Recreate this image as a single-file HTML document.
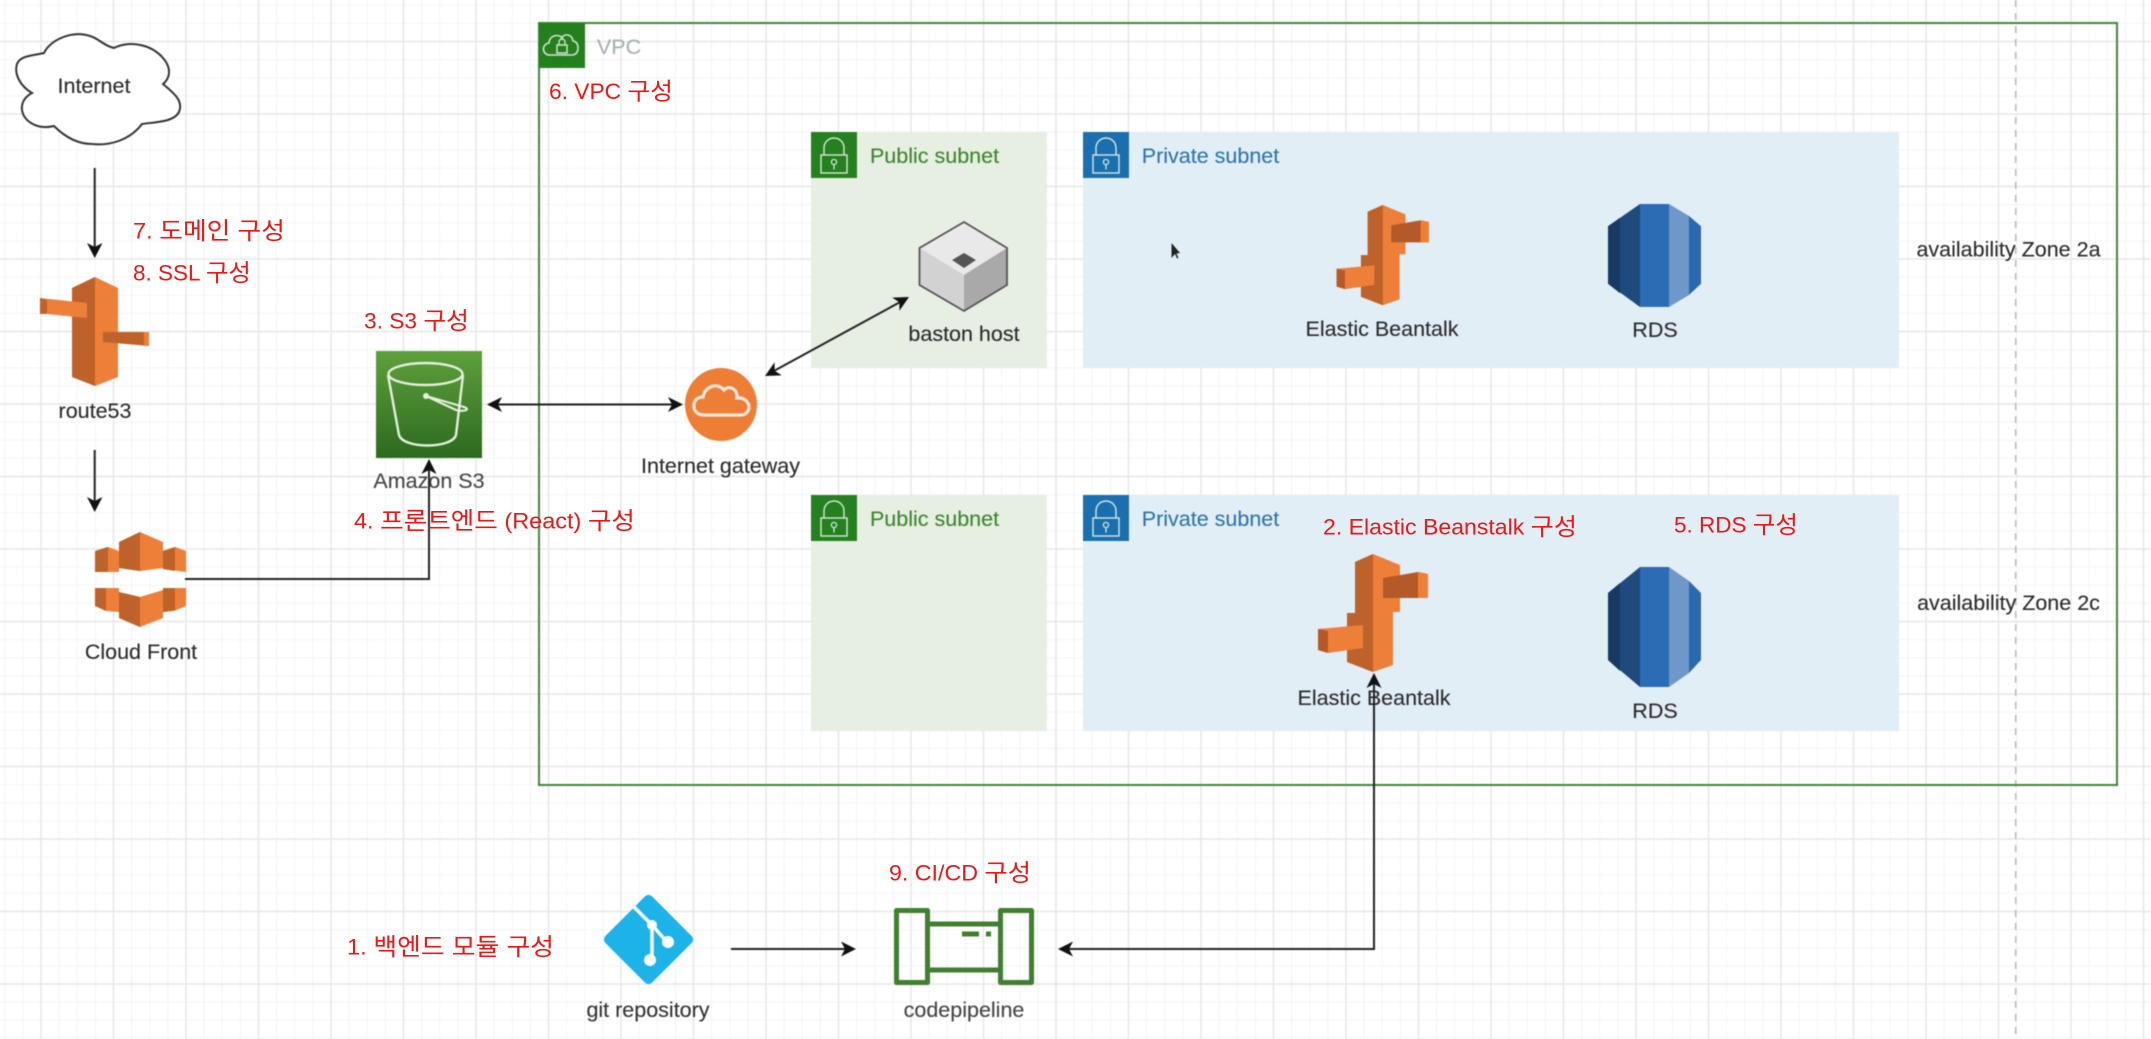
<!DOCTYPE html>
<html><head><meta charset="utf-8">
<style>
html,body{margin:0;padding:0;background:#fff;width:2151px;height:1039px;overflow:hidden}
svg{display:block}
text{font-family:"Liberation Sans","Noto Sans CJK KR",sans-serif;font-size:21.5px;fill:#2b2b2b;stroke:#2b2b2b;stroke-width:.12;text-anchor:middle;dominant-baseline:central}
.red text{font-family:"Liberation Sans","Noto Sans CJK KR",sans-serif;fill:#f51414;font-size:22px;text-anchor:start;stroke:none}
.red tspan{font-size:24px}
.soft{filter:blur(.6px)}
.grid{filter:blur(.4px)}
</style></head><body>
<svg width="2151" height="1039" viewBox="0 0 2151 1039" xmlns="http://www.w3.org/2000/svg">
<defs>
<pattern id="minor" x="31.94" y="32.44" width="18.125" height="18.125" patternUnits="userSpaceOnUse"><path d="M9.06 0V18.125M0 9.06H18.125" stroke="#f4f4f4" stroke-width="1" fill="none"/></pattern>
<pattern id="major" x="4.75" y="5.25" width="72.5" height="72.5" patternUnits="userSpaceOnUse"><path d="M36.25 0V72.5M0 36.25H72.5" stroke="#e7e7e7" stroke-width="1.4" fill="none"/></pattern>
<linearGradient id="s3g" x1="0" y1="0" x2="0" y2="1"><stop offset="0" stop-color="#5fa03c"/><stop offset="1" stop-color="#2c6a1f"/></linearGradient>
<g id="lock"><path d="M13 23v-7a10 10 0 0 1 20 0v7" fill="none" stroke="#d8e8d8" stroke-width="1.4"/><rect x="10" y="23" width="26" height="18" fill="none" stroke="#d8e8d8" stroke-width="1.4"/><circle cx="23" cy="30" r="2.6" fill="none" stroke="#d8e8d8" stroke-width="1.3"/><path d="M23 32.5v5" stroke="#d8e8d8" stroke-width="1.3"/></g>
<g id="eb">
<path d="M1355 562L1373 554L1400 565V612H1393V665L1373 672L1347 662V613H1355Z" fill="#ee7f38"/>
<path d="M1355 562L1373 554V672L1347 662V613H1355Z" fill="#bd622a"/>
<path d="M1383 578L1418 572L1428 574V598H1383Z" fill="#b45a28"/>
<path d="M1418 572L1428 574V598H1418Z" fill="#ee7f38"/>
<path d="M1318 629L1363 625V648L1328 653L1318 650Z" fill="#ee7f38"/>
<path d="M1318 629L1328 631V653L1318 650Z" fill="#b45a28"/>
</g>
<g id="rds">
<path d="M1608 593L1640 567V687L1608 660Z" fill="#1f4a7c"/>
<path d="M1608 593L1620 583V671L1608 660Z" fill="#173a62"/>
<rect x="1640" y="567" width="29" height="120" fill="#2c6cb4"/>
<path d="M1669 567L1689 581V673L1669 687Z" fill="#6f97c9"/>
<path d="M1689 581L1701 593V660L1689 673Z" fill="#2b69ae"/>
</g>
</defs>
<rect width="2151" height="1039" fill="#fff"/>
<g class="grid">
<rect x="-5" y="-5" width="2161" height="1049" fill="url(#minor)"/>
<rect x="-5" y="-5" width="2161" height="1049" fill="url(#major)"/>
</g>

<g class="soft">
<!-- dashed AZ line -->
<path d="M2015.7 0V1039" stroke="#bcbcbc" stroke-width="1.6" stroke-dasharray="7 6" fill="none"/>

<!-- VPC -->
<rect x="539" y="23" width="1578" height="762" fill="none" stroke="#3f8a3a" stroke-width="2"/>
<rect x="539" y="23" width="46" height="45" fill="#23801d"/>
<path d="M550 55a6 6 0 0 1-1-12c0-7 9-10 13-5 2-5 10-4 11 3 1 0 5 1 5 7s-4 7-6 7Z" fill="none" stroke="#cfe4cf" stroke-width="1.6"/>
<rect x="557" y="45" width="10" height="8" fill="none" stroke="#cfe4cf" stroke-width="1.5"/>
<path d="M559 45v-3a3 3 0 0 1 6 0v3" fill="none" stroke="#cfe4cf" stroke-width="1.4"/>
<text x="619" y="47" style="fill:#a3b1b2;stroke:#a3b1b2">VPC</text>

<!-- Subnets -->
<rect x="811" y="132" width="236" height="236" fill="#e6efe2"/>
<rect x="811" y="495" width="236" height="236" fill="#e6efe2"/>
<rect x="1083" y="132" width="816" height="236" fill="#e1eef6"/>
<rect x="1083" y="495" width="816" height="236" fill="#e1eef6"/>
<rect x="811" y="132" width="46" height="46" fill="#25801f"/>
<rect x="811" y="495" width="46" height="46" fill="#25801f"/>
<rect x="1083" y="132" width="46" height="46" fill="#1a6fb0"/>
<rect x="1083" y="495" width="46" height="46" fill="#1a6fb0"/>
<use href="#lock" x="811" y="132"/><use href="#lock" x="811" y="495"/>
<use href="#lock" x="1083" y="132"/><use href="#lock" x="1083" y="495"/>
<text x="934.5" y="156" style="fill:#3f8530;stroke:#3f8530">Public subnet</text>
<text x="934.5" y="519" style="fill:#3f8530;stroke:#3f8530">Public subnet</text>
<text x="1210.5" y="156" style="fill:#2f76ab;stroke:#2f76ab">Private subnet</text>
<text x="1210.5" y="519" style="fill:#2f76ab;stroke:#2f76ab">Private subnet</text>

<!-- Cloud -->
<path d="M32 93C20 86 14 74 17 64C20 56 30 56 44 53C50 40 72 30 90 36C98 38 104 46 114 48C130 40 154 44 166 62C172 72 168 80 163 84C172 92 184 100 179 112C174 122 156 122 142 124C130 140 110 146 92 144C76 144 64 136 54 126C38 130 24 122 22 110C21 102 26 96 32 93Z" fill="#fff" stroke="#333" stroke-width="2"/>
<text x="94" y="86">Internet</text>

<!-- Route53 -->
<path d="M72 288L95 277L118 288V377L95 386L72 377Z" fill="#ee7f38"/>
<path d="M72 288L95 277V386L72 377Z" fill="#bd622a"/>
<path d="M40 298L87 303V318L47 314H40Z" fill="#ee7f38"/>
<path d="M40 298L47 300V314H40Z" fill="#bd622a"/>
<path d="M103 332L149 332V346L103 342Z" fill="#bd622a"/>
<path d="M144 332H149V346H144Z" fill="#ee7f38"/>
<text x="95" y="411">route53</text>

<!-- CloudFront -->
<path d="M95 551L108 547L119 551V572H95Z" fill="#ee7f38"/>
<path d="M95 551L108 547V572H95Z" fill="#bd622a"/>
<path d="M163 551L175 547L186 551V572L163 569Z" fill="#ee7f38"/>
<path d="M163 551L175 547V571L163 569Z" fill="#bd622a"/>
<path d="M119 542L140 532L163 542V568L140 571L119 568Z" fill="#ee7f38"/>
<path d="M119 542L140 532V571L119 568Z" fill="#bd622a"/>
<path d="M95 588H119V612L107 611L95 606Z" fill="#ee7f38"/>
<path d="M95 588H106V611L95 606Z" fill="#bd622a"/>
<path d="M163 588L186 588V606L174 611L163 612Z" fill="#ee7f38"/>
<path d="M163 588H175V610L163 612Z" fill="#bd622a"/>
<path d="M119 592L140 597L163 590V618L140 627L119 618Z" fill="#ee7f38"/>
<path d="M119 592L140 597V627L119 618Z" fill="#bd622a"/>
<text x="141" y="652">Cloud Front</text>

<!-- S3 -->
<rect x="376" y="351" width="106" height="107" fill="url(#s3g)"/>
<ellipse cx="425.5" cy="374" rx="37" ry="11" fill="none" stroke="#e4efdc" stroke-width="2.4"/>
<path d="M388 375L399 435C403 449 452 449 456 435L463 375" fill="none" stroke="#e4efdc" stroke-width="2.4"/>
<circle cx="426" cy="396" r="3" fill="#e4efdc"/>
<path d="M426 396L464 407C472 410 462 412 456 410L426 396" fill="none" stroke="#e4efdc" stroke-width="2.2"/>
<text x="429" y="481" style="fill:#444;stroke:#444">Amazon S3</text>

<!-- IGW -->
<ellipse cx="721" cy="404.5" rx="36" ry="36.5" fill="#ee7d36"/>
<path d="M704 415C696 415 693 409 694 404C695 399 699 397 703 397C704 388 716 381 724 390C730 384 738 390 737 398C744 397 749 402 749 407C749 412 745 415 741 415Z" fill="none" stroke="#fde8da" stroke-width="3.2"/>
<text x="720.5" y="466">Internet gateway</text>

<!-- bastion -->
<path d="M964 222L1007 248V285L964 311L919.5 285V248Z" fill="#e9e9e9"/>
<path d="M919.5 248L964 275V311L919.5 285Z" fill="#d2d2d2"/>
<path d="M1007 248L964 275V311L1007 285Z" fill="#a9a9a9"/>
<path d="M964 222L1007 248V285L964 311L919.5 285V248Z" fill="none" stroke="#555" stroke-width="1.8"/>
<path d="M964 253L976 260L964 268L952 260Z" fill="#555"/>
<text x="964" y="334">baston host</text>

<!-- Mouse pointer -->
<path d="M1171.5 243V258L1175 254L1177 258.5L1178.5 258L1176.5 253.5L1180 253Z" fill="#222"/>

<!-- EB + RDS -->
<g transform="translate(1429 205) scale(.84 .85) translate(-1428 -554)"><use href="#eb"/></g>
<text x="1382" y="329">Elastic Beantalk</text>
<g transform="translate(0 204) scale(1 .858) translate(0 -567)"><use href="#rds"/></g>
<text x="1655" y="330">RDS</text>
<use href="#eb"/>
<text x="1374" y="698">Elastic Beantalk</text>
<use href="#rds"/>
<text x="1655" y="711">RDS</text>
<text x="2008.5" y="249.5">availability Zone 2a</text>
<text x="2008.5" y="603">availability Zone 2c</text>

<!-- Git -->
<rect x="615.5" y="906.5" width="66" height="66" rx="5" fill="#1db3e8" transform="rotate(45 648.5 939.5)"/>
<path d="M634 907L652 925V961M652 925L667 942" fill="none" stroke="#fff" stroke-width="3.5"/>
<circle cx="652" cy="925" r="5" fill="#fff"/><circle cx="668" cy="942" r="6" fill="#fff"/><circle cx="650" cy="960" r="6" fill="#fff"/>
<text x="648" y="1010" style="fill:#333;stroke:#333">git repository</text>

<!-- CodePipeline -->
<g fill="none" stroke="#3f7f2f" stroke-width="5" stroke-linejoin="round">
<rect x="896.5" y="910.5" width="31" height="72"/>
<rect x="1000.5" y="910.5" width="31" height="72"/>
<path d="M928 924H1000M928 970H1000"/>
</g>
<path d="M962 934H979M986 934H991" stroke="#3f7f2f" stroke-width="5"/>
<text x="964" y="1010" style="fill:#444;stroke:#444">codepipeline</text>

<!-- Connectors -->
<g fill="none" stroke="#222" stroke-width="2">
<path d="M94.7 168V250"/>
<path d="M94.7 450V504"/>
<path d="M185 579H429V466"/>
<path d="M494 404.5H676"/>
<path d="M772 372L902 301"/>
<path d="M731 949H848"/>
<path d="M1066 949H1374V680"/>
</g>
<g fill="#111">
<path d="M94.7 258L87 243L94.7 247L102.5 243Z"/>
<path d="M94.7 512L87 497L94.7 501L102.5 497Z"/>
<path d="M429 459L421.5 474L429 470L436.5 474Z"/>
<path d="M487 404.5L502 397L498 404.5L502 412Z"/>
<path d="M683 404.5L668 397L672 404.5L668 412Z"/>
<path d="M765 376L781.8 375.4L774.6 370.7L774.6 362.2Z"/>
<path d="M909 297L892.2 297.6L899.4 302.3L899.4 310.8Z"/>
<path d="M856 949L841 941.5L845 949L841 956.5Z"/>
<path d="M1058 949L1073 941.5L1069 949L1073 956.5Z"/>
<path d="M1374 673L1366.5 688L1374 684L1381.5 688Z"/>
</g>
</g>

<!-- Red labels -->
<g class="red">
<text x="133" y="231" textLength="152" lengthAdjust="spacingAndGlyphs">7. <tspan>도메인 구성</tspan></text>
<text x="133" y="273" textLength="118" lengthAdjust="spacingAndGlyphs">8. SSL <tspan>구성</tspan></text>
<text x="364" y="321" textLength="105" lengthAdjust="spacingAndGlyphs">3. S3 <tspan>구성</tspan></text>
<text x="354" y="521" textLength="281" lengthAdjust="spacingAndGlyphs">4. <tspan>프론트엔드</tspan> (React) <tspan>구성</tspan></text>
<text x="549" y="91.5" textLength="124" lengthAdjust="spacingAndGlyphs">6. VPC <tspan>구성</tspan></text>
<text x="1323" y="527" textLength="254" lengthAdjust="spacingAndGlyphs">2. Elastic Beanstalk <tspan>구성</tspan></text>
<text x="1674" y="525" textLength="124" lengthAdjust="spacingAndGlyphs">5. RDS <tspan>구성</tspan></text>
<text x="889" y="873" textLength="142" lengthAdjust="spacingAndGlyphs">9. CI/CD <tspan>구성</tspan></text>
<text x="347" y="947" textLength="207" lengthAdjust="spacingAndGlyphs">1. <tspan>백엔드 모듈 구성</tspan></text>
</g>
</svg>
</body></html>
